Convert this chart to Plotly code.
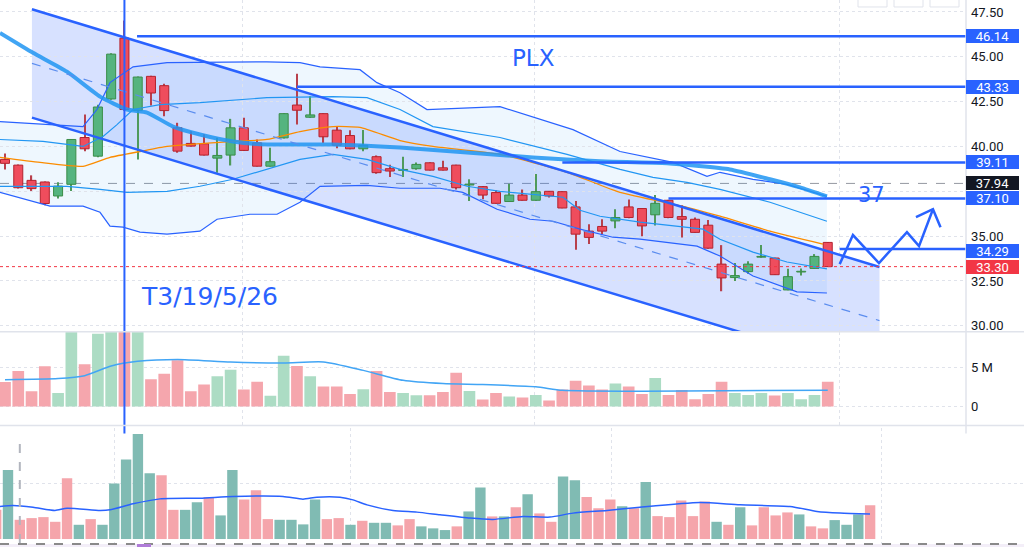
import plotly.graph_objects as go

# ---- price candles (index 0..62) ----
opens = [39.28, 38.96, 38.11, 38.02, 37.24, 37.89, 40.50, 39.46, 42.65, 46.04,
         42.00, 43.91, 43.39, 41.04, 40.17, 40.15, 39.35, 39.52, 41.04, 40.20,
         38.90, 40.48, 42.31, 41.63, 41.83, 40.91, 40.61, 39.87, 39.43, 38.76,
         38.67, 38.76, 39.09, 38.81, 38.96, 37.85, 37.76, 37.43, 36.93, 37.29,
         37.00, 37.50, 37.48, 36.63, 35.28, 35.54, 35.85, 36.63, 36.54, 36.19,
         37.00, 36.09, 35.94, 35.61, 33.44, 32.69, 33.02, 33.83, 33.78, 32.00,
         33.00, 33.20, 34.65]
highs = [39.61, 39.00, 38.39, 38.05, 38.00, 40.42, 41.78, 42.33, 45.20, 47.02,
         43.90, 43.95, 43.50, 41.32, 40.85, 40.68, 40.48, 41.54, 41.60, 40.39,
         39.93, 41.85, 44.06, 42.80, 41.85, 41.10, 40.90, 40.92, 39.50, 38.98,
         39.43, 39.10, 39.12, 39.20, 38.98, 38.17, 37.80, 37.56, 37.92, 37.60,
         38.46, 37.52, 37.50, 36.96, 35.67, 35.94, 36.50, 37.04, 36.56, 37.30,
         37.02, 36.72, 36.04, 35.90, 34.50, 33.50, 33.60, 34.50, 33.80, 33.18,
         33.20, 34.00, 34.68]
lows = [38.72, 37.65, 37.52, 36.72, 37.10, 37.52, 39.74, 39.40, 42.60, 42.00,
        39.28, 42.28, 41.68, 39.65, 40.00, 39.50, 38.54, 38.94, 39.75, 38.88,
        38.88, 40.45, 41.22, 41.60, 40.20, 39.90, 39.85, 39.74, 38.48, 38.30,
        38.30, 38.70, 38.66, 38.66, 37.60, 36.96, 37.06, 36.80, 36.90, 36.98,
        36.98, 37.15, 36.55, 34.24, 34.56, 35.11, 35.44, 36.00, 35.00, 35.60,
        36.00, 34.93, 35.19, 34.30, 31.93, 32.50, 32.90, 33.80, 32.83, 31.98,
        32.80, 33.18, 33.28]
closes = [39.06, 37.70, 37.65, 36.82, 37.79, 40.39, 39.87, 42.20, 45.15, 42.06,
          43.87, 42.98, 42.00, 39.74, 40.02, 39.52, 39.50, 41.04, 39.78, 38.90,
          39.15, 41.83, 42.02, 41.76, 40.54, 40.07, 39.87, 40.07, 38.54, 38.63,
          38.72, 39.00, 38.68, 38.68, 37.70, 37.90, 37.29, 36.83, 37.29, 37.00,
          37.48, 37.24, 36.57, 35.11, 34.93, 35.28, 36.04, 36.04, 35.57, 36.83,
          36.04, 35.94, 35.21, 34.33, 32.67, 32.80, 33.44, 33.87, 32.85, 32.74,
          33.04, 33.87, 33.30]

# volume under the candles, in millions (bars over 9.6 run off the pane)
volumes = [3.16, 4.57, 1.97, 5.17, 1.75, 10.5, 5.43, 9.36, 10.5, 10.5,
           10.5, 3.50, 4.23, 5.94, 1.97, 2.82, 3.89, 4.74, 2.18, 3.20,
           1.37, 6.54, 5.21, 3.89, 2.56, 2.56, 1.62, 2.22, 4.57, 1.88,
           1.75, 1.45, 1.45, 1.88, 4.36, 2.01, 0.90, 1.75, 1.28, 1.15,
           1.49, 0.77, 2.18, 3.33, 2.69, 2.18, 2.95, 2.56, 1.62, 3.67,
           1.49, 2.13, 0.94, 1.62, 3.20, 1.75, 1.49, 1.75, 1.41, 1.75,
           0.94, 1.49, 3.20]
vol_ma_x = [0, 4, 6, 8, 10, 13, 17, 21, 24, 27, 30, 33, 36, 40, 42, 48, 62]
vol_ma = [3.46, 3.59, 3.97, 5.22, 5.81, 6.06, 5.73, 5.60, 5.73, 4.65,
          3.37, 2.95, 2.82, 2.53, 2.09, 1.96, 2.09]

# ---- indicator lines (bar index, price) ----
ma_long_x = [-0.38, 2.11, 4.67, 7.16, 9.19, 10.7, 12.66, 14.69, 17.18, 19.74,
             24.72, 29.77, 34.82, 39.79, 44.84, 49.89, 54.63, 57.65, 59.91, 61.94]
ma_long = [46.33, 45.22, 44.17, 42.78, 42.06, 41.89, 41.11, 40.67, 40.28, 40.11,
           40.11, 39.94, 39.67, 39.39, 39.17, 39.06, 38.72, 38.17, 37.72, 37.22]

ema_x = [-0.38, 2.64, 5.88, 7.91, 10.17, 12.21, 17.18, 19.74, 22.23, 24.72,
         26.75, 29.77, 32.25, 37.3, 42.35, 46.35, 51.39, 53.88, 57.65, 61.64]
ema = [39.39, 39.11, 38.89, 39.39, 39.72, 40.00, 40.28, 40.39, 40.83, 41.11,
       41.06, 40.33, 40.00, 39.56, 38.56, 37.44, 36.61, 36.11, 35.28, 34.56]

bb_outer_up_x = [-0.38, 5.88, 6.93, 7.91, 9.65, 12.21, 19.74, 22.23, 23.74, 26.75,
                 28.03, 29.77, 31.8, 37.3, 42.8, 46.35, 50.34, 52.9, 53.88, 56.37,
                 58.93, 61.94]
bb_outer_up = [41.39, 41.11, 42.06, 43.56, 44.44, 44.67, 44.72, 44.67, 44.44, 44.28,
               43.56, 43.00, 42.06, 42.22, 40.94, 39.72, 39.11, 38.33, 38.56, 38.17,
               37.89, 37.22]
bb_outer_lo_x = [-0.38, 2.11, 3.39, 5.88, 7.16, 7.91, 8.89, 10.17, 12.21, 14.69,
                 15.98, 18.46, 20.5, 22.23, 23.74, 27.28, 29.77, 32.78, 34.5, 37.08,
                 39.56, 41.3, 43.33, 45.8, 47.85, 52.15, 53.88, 56.37, 59.68, 61.94]
bb_outer_lo = [37.44, 36.94, 36.67, 36.67, 36.33, 35.56, 35.50, 35.22, 35.11, 35.28,
               35.94, 36.22, 36.22, 36.89, 37.78, 37.83, 37.67, 37.67, 37.44, 36.50,
               35.94, 35.83, 35.39, 34.94, 34.83, 34.44, 33.89, 32.78, 31.89, 31.83]
bb_inner_up_x = [-0.38, 2.86, 5.88, 7.39, 8.44, 9.65, 11.68, 14.69, 19.74, 24.72,
                 27.28, 29.77, 32.25, 37.3, 42.35, 46.35, 48.83, 51.39, 53.88, 57.65,
                 61.94]
bb_inner_up = [40.39, 40.28, 40.00, 40.56, 41.22, 42.06, 42.33, 42.44, 42.72, 42.78,
               42.72, 42.06, 41.11, 40.50, 39.56, 38.72, 38.28, 38.00, 37.61, 36.89,
               35.83]
bb_inner_lo_x = [-0.38, 4.67, 7.16, 9.19, 12.21, 14.69, 17.18, 19.74, 22.23, 24.72,
                 27.28, 29.77, 32.25, 34.82, 37.3, 42.05, 43.33, 44.84, 47.85, 52.6,
                 53.88, 56.37, 58.93, 61.94]
bb_inner_lo = [37.78, 37.78, 37.61, 37.44, 37.50, 37.78, 38.17, 38.72, 39.28, 39.56,
               39.28, 38.72, 38.33, 37.78, 37.50, 37.17, 36.44, 36.11, 35.78, 35.39,
               34.83, 34.11, 33.56, 33.17]

# ---- drawings ----
channel_x = [2.03, 65.9]
channel_top = [47.65, 33.28]
channel_bottom = [41.61, 27.30]
levels = [46.14, 43.33, 39.11, 37.10, 34.29]
level_start = [9.95, 22.0, 42.0, 50.0, 62.9]
zigzag_x = [62.9, 63.9, 65.86, 67.97, 68.88, 69.93]
zigzag_y = [33.44, 35.06, 33.50, 35.22, 34.44, 36.50]
arrow_x = [68.65, 69.93, 70.5]
arrow_y = [36.06, 36.50, 35.50]
last_price = 37.94
close_price = 33.30
marker_bar = 9

# ---- lower panel (second volume chart, index -1..73) ----
low_vol = [29.3, 69.3, 19.3, 21.0, 22.0, 17.3, 61.0, 14.3, 20.0, 14.3,
           55.7, 79.7, 105.3, 66.0, 64.0, 29.3, 29.3, 37.0, 42.0, 23.7,
           69.3, 39.7, 49.0, 20.0, 19.3, 19.3, 14.7, 39.7, 20.0, 21.0,
           14.3, 18.3, 16.3, 16.3, 13.7, 20.0, 12.7, 10.7, 9.0, 12.7,
           27.7, 51.7, 22.7, 22.7, 32.0, 45.0, 25.7, 17.3, 62.7, 59.0,
           42.3, 31.0, 39.7, 33.0, 31.0, 57.3, 23.0, 22.0, 38.7, 23.0,
           37.7, 17.3, 14.3, 32.0, 13.7, 32.0, 23.7, 26.7, 24.7, 12.7,
           10.7, 19.0, 14.3, 24.7, 34.0]
low_up = ("p t p p p p p t p t t t t t p p t t p t t p p p t t t t p p "
          "t p t t p p t t t p t t p t p t p p t t p p p t p t p p p p "
          "p t p t p p p p t p p t t t p").split()
low_ma_x = [-0.68, 0.42, 2.12, 3.98, 5.0, 7.79, 8.64, 10.58, 12.87, 16.26,
            19.05, 23.29, 24.98, 26.16, 28.11, 29.21, 30.4, 32.6, 34.63, 36.58,
            39.12, 41.07, 43.61, 45.89, 47.84, 50.72, 53.51, 58.59, 61.98, 66.22,
            68.5, 70.45, 72.99]
low_ma = [32.7, 33.7, 32.0, 28.7, 31.0, 28.7, 29.3, 35.3, 40.3, 41.0,
          42.7, 42.7, 40.0, 42.0, 42.0, 39.3, 34.3, 28.7, 27.0, 24.3,
          21.0, 19.7, 22.7, 22.0, 26.0, 28.7, 32.0, 36.7, 34.3, 32.7,
          27.7, 26.0, 25.0]

BLUE = "#2962ff"
LIGHTBLUE = "#2196f3"
GRID = "#e0e3eb"
W, H = 1024, 549
XR = 966 / W

n = len(closes)
idx = list(range(n))
up = [c >= o for o, c in zip(opens, closes)]


def path_of(xs, ys):
    return "M " + " L ".join(f"{x},{y}" for x, y in zip(xs, ys)) + " Z"


fig = go.Figure()

# candles: wick bars first, bodies on top
fig.add_trace(go.Bar(x=idx, y=[h - l for h, l in zip(highs, lows)], base=lows, width=0.09,
                     marker=dict(color=["#4f9a5c" if u else "#b8404c" for u in up], line=dict(width=0))))
fig.add_trace(go.Bar(x=idx, y=[max(abs(c - o), 0.04) for o, c in zip(opens, closes)],
                     base=[min(o, c) for o, c in zip(opens, closes)], width=0.68,
                     marker=dict(color=["#55b47f" if u else "#ef4d5d" for u in up],
                                 line=dict(color=["#3a8d47" if u else "#b3232f" for u in up], width=1))))

# bollinger lines, EMA and long MA
for xs, ys, col in [(bb_outer_up_x, bb_outer_up, BLUE), (bb_outer_lo_x, bb_outer_lo, BLUE),
                    (bb_inner_up_x, bb_inner_up, LIGHTBLUE), (bb_inner_lo_x, bb_inner_lo, LIGHTBLUE)]:
    fig.add_trace(go.Scatter(x=xs, y=ys, mode="lines", line=dict(color=col, width=1.2)))
fig.add_trace(go.Scatter(x=ema_x, y=ema, mode="lines",
                         line=dict(color="#fb8c00", width=1.3, shape="spline", smoothing=0.5)))
fig.add_trace(go.Scatter(x=ma_long_x, y=ma_long, mode="lines", opacity=0.85,
                         line=dict(color=LIGHTBLUE, width=4, shape="spline", smoothing=0.5)))

# channel borders and mid line
fig.add_trace(go.Scatter(x=channel_x, y=channel_top, mode="lines", line=dict(color=BLUE, width=2.5)))
fig.add_trace(go.Scatter(x=channel_x, y=channel_bottom, mode="lines", line=dict(color=BLUE, width=2.5)))
fig.add_trace(go.Scatter(x=channel_x, y=[(a + b) / 2 for a, b in zip(channel_top, channel_bottom)],
                         mode="lines", line=dict(color="#5b8def", width=1.2, dash="dash")))

# horizontal levels
for lv, st in zip(levels, level_start):
    fig.add_trace(go.Scatter(x=[st, 72.5], y=[lv, lv], mode="lines",
                             line=dict(color=BLUE, width=2.5)))

fig.add_trace(go.Scatter(x=zigzag_x, y=zigzag_y, mode="lines", line=dict(color=BLUE, width=2.5)))
fig.add_trace(go.Scatter(x=arrow_x, y=arrow_y, mode="lines", line=dict(color=BLUE, width=2.5)))

# volume overlay
fig.add_trace(go.Bar(x=idx, y=volumes, yaxis="y2", width=0.88,
                     marker=dict(color=["#acdcc4" if u else "#f5a6ad" for u in up], line=dict(width=0))))
fig.add_trace(go.Scatter(x=vol_ma_x, y=vol_ma, yaxis="y2", mode="lines",
                         line=dict(color="#42a5f5", width=1.5, shape="spline", smoothing=0.6)))

# lower panel
low_idx = list(range(-1, len(low_vol) - 1))
fig.add_trace(go.Bar(x=low_idx, y=low_vol, xaxis="x3", yaxis="y3", width=0.88,
                     marker=dict(color=["#80bbb3" if c == "t" else "#f5a5ab" for c in low_up],
                                 line=dict(width=0))))
fig.add_trace(go.Scatter(x=low_ma_x, y=low_ma, xaxis="x3", yaxis="y3", mode="lines",
                         line=dict(color=BLUE, width=1.5, shape="spline", smoothing=0.6)))

# price tags on the right axis
tags = [(46.14, BLUE), (43.33, BLUE), (39.11, BLUE), (37.10, BLUE),
        (last_price, "#131722"), (34.29, BLUE), (close_price, "#f23645")]
annotations = []
for val, col in tags:
    annotations.append(dict(xref="paper", yref="y", x=XR, y=val, xanchor="left",
                            yanchor="middle", text=f"{val:.2f}", showarrow=False, bgcolor=col,
                            width=51, height=12, borderpad=1, borderwidth=0,
                            yshift=-2 if val == 34.29 else 0,
                            font=dict(family="Roboto", size=13, color="white")))
annotations += [
    dict(xref="paper", yref="paper", x=533 / W, y=1 - 58 / H, xanchor="center", yanchor="middle",
         text="PLX", showarrow=False, font=dict(family="DejaVu Sans", size=23, color=BLUE)),
    dict(xref="paper", yref="paper", x=871 / W, y=1 - 196 / H, xanchor="center", yanchor="middle",
         text="37", showarrow=False, font=dict(family="DejaVu Sans", size=21, color=BLUE)),
    dict(xref="paper", yref="paper", x=209 / W, y=1 - 298 / H, xanchor="center", yanchor="middle",
         text="T3/19/5/26", showarrow=False, font=dict(family="DejaVu Sans", size=25, color=BLUE)),
]

shapes = [
    # bollinger band fill and channel fill, under the candles
    dict(type="path", xref="x", yref="y", layer="below", line=dict(width=0),
         fillcolor="rgba(33,150,243,0.08)",
         path=path_of(bb_outer_up_x + bb_outer_lo_x[::-1], bb_outer_up + bb_outer_lo[::-1])),
    dict(type="path", xref="x", yref="y", layer="below", line=dict(width=0),
         fillcolor="rgba(41,98,255,0.19)",
         path=path_of([channel_x[0], channel_x[1], channel_x[1], channel_x[0]],
                      [channel_top[0], channel_top[1], channel_bottom[1], channel_bottom[0]])),
    dict(type="line", xref="x", yref="paper", x0=marker_bar, x1=marker_bar, y0=1 - 435 / H, y1=1,
         line=dict(color=BLUE, width=2)),
    dict(type="line", xref="paper", yref="y", x0=0, x1=XR, y0=last_price, y1=last_price,
         line=dict(color="#9598a1", width=1, dash="dash"), layer="below"),
    dict(type="line", xref="paper", yref="y", x0=0, x1=XR, y0=close_price, y1=close_price,
         line=dict(color="#f23645", width=1, dash="dot")),
    dict(type="line", xref="paper", yref="paper", x0=0, x1=1, y0=1 - 333 / H, y1=1 - 333 / H,
         line=dict(color=GRID, width=1.5)),
    dict(type="line", xref="paper", yref="paper", x0=0, x1=1, y0=1 - 427 / H, y1=1 - 427 / H,
         line=dict(color=GRID, width=1.5)),
    dict(type="line", xref="paper", yref="paper", x0=XR, x1=XR, y0=1 - 435 / H, y1=1,
         line=dict(color=GRID, width=1.5)),
    dict(type="line", xref="x3", yref="paper", x0=1, x1=1, y0=4 / H, y1=112 / H,
         line=dict(color="#b2b5be", width=2, dash="dash")),
    dict(type="rect", xref="paper", yref="paper", x0=0, x1=1, y0=0, y1=3 / H,
         fillcolor="#f3eef8", line=dict(width=0)),
    dict(type="line", xref="paper", yref="paper", x0=0, x1=1, y0=3 / H, y1=3 / H,
         line=dict(color="#8a8a8a", width=2, dash="dash")),
    dict(type="rect", xref="paper", yref="paper", x0=137 / W, x1=151 / W, y0=0, y1=3 / H,
         fillcolor="#b07cd8", line=dict(width=0)),
]
for bx in (858, 894, 930):
    shapes.append(dict(type="rect", xref="paper", yref="paper", x0=bx / W, x1=(bx + 29) / W,
                       y0=1 - 7 / H, y1=1.02, fillcolor="white", line=dict(color=GRID, width=1)))

axis_font = dict(family="Roboto", size=13, color="#131722")
fig.update_layout(
    width=W, height=H, margin=dict(l=0, r=0, t=0, b=0),
    paper_bgcolor="white", plot_bgcolor="white",
    showlegend=False, hovermode=False, barmode="overlay",
    annotations=annotations, shapes=shapes,
    xaxis=dict(domain=[0, XR], range=[-0.377, 72.42], anchor="y",
               tickvals=[17.9, 39.9, 62.9], showticklabels=False, ticks="",
               showgrid=True, gridcolor=GRID, griddash="dot", zeroline=False),
    yaxis=dict(domain=[1 - 333 / H, 1], range=[29.667, 48.167], side="right", anchor="x",
               tickvals=[30, 32.5, 35, 37.5, 40, 42.5, 45, 47.5],
               ticktext=["30.00", "32.50", "35.00", "", "40.00", "42.50", "45.00", "47.50"],
               tickfont=axis_font, ticklabelstandoff=4, ticks="",
               showgrid=True, gridcolor=GRID, griddash="dot", zeroline=False),
    yaxis2=dict(domain=[1 - 427 / H, 1 - 333 / H], range=[-2.436, 9.615], side="right", anchor="x",
                tickvals=[0, 5], ticktext=["0", "5 M"], tickfont=axis_font, ticklabelstandoff=4,
                ticks="", showgrid=True, gridcolor=GRID, griddash="dot", zeroline=False),
    xaxis3=dict(domain=[0, 1], range=[-0.677, 86.03], anchor="y3",
                tickvals=[9.06, 28.96, 51.06, 74.0], showticklabels=False, ticks="",
                showgrid=True, gridcolor=GRID, griddash="dot", zeroline=False),
    yaxis3=dict(domain=[0, 119 / H], range=[-8, 111], anchor="x3",
                tickvals=[56], showticklabels=False, ticks="",
                showgrid=True, gridcolor=GRID, griddash="dot", zeroline=False),
)

# the page body has a default 8px margin; drop it so the chart sits at the window corner
fig.write_html("out.html", config={"displayModeBar": False},
               post_script="document.body.style.margin='0';")
